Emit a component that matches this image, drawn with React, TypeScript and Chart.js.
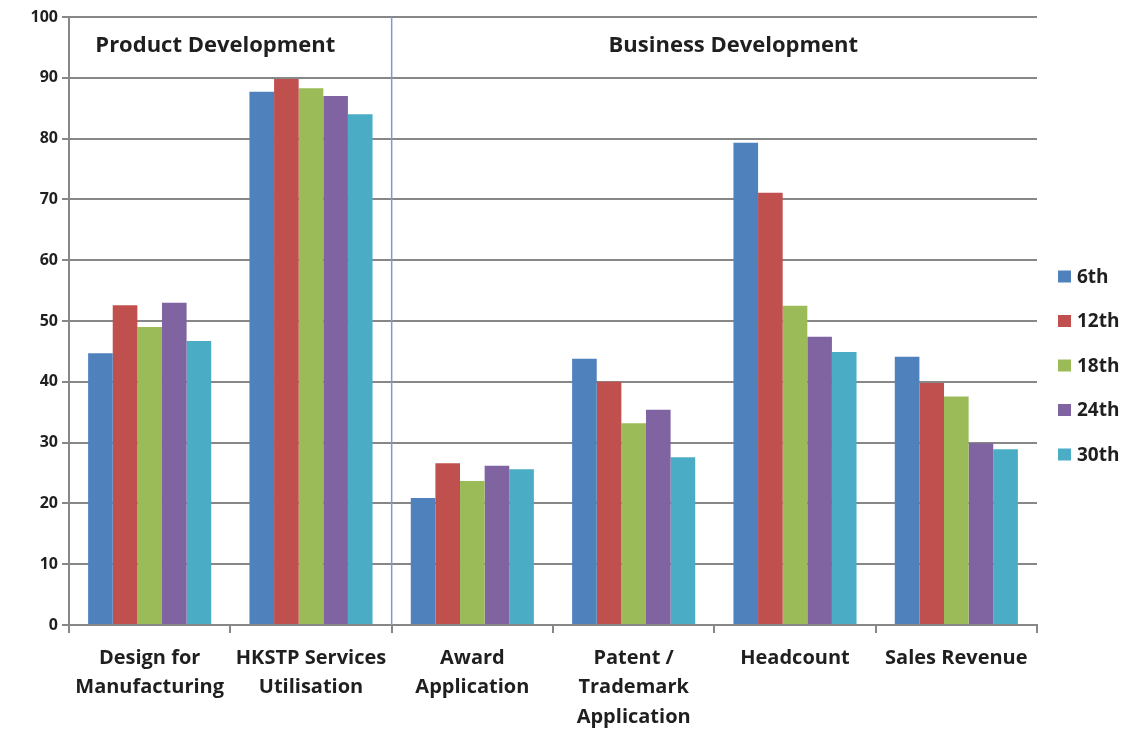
import React, { useEffect, useRef } from "react";
import { Chart, registerables } from "chart.js";

Chart.register(...registerables);

const categories: string[][] = [
  ["Design for", "Manufacturing"],
  ["HKSTP Services", "Utilisation"],
  ["Award", "Application"],
  ["Patent /", "Trademark", "Application"],
  ["Headcount"],
  ["Sales Revenue"],
];

const seriesLabels = ["6th", "12th", "18th", "24th", "30th"];
const seriesColors = ["#4F81BD", "#C0504D", "#9BBB59", "#8064A2", "#4BACC6"];

const s6th = [44.7, 87.7, 20.9, 43.8, 79.3, 44.1];
const s12th = [52.6, 89.8, 26.6, 40.0, 71.1, 39.8];
const s18th = [49.0, 88.3, 23.7, 33.2, 52.5, 37.6];
const s24th = [53.0, 87.0, 26.2, 35.4, 47.4, 29.9];
const s30th = [46.7, 84.0, 25.6, 27.6, 44.9, 28.9];

const sectionLabels = ["Product Development", "Business Development"];
const yTicks = [0, 10, 20, 30, 40, 50, 60, 70, 80, 90, 100];

const FONT = "'Open Sans', 'DejaVu Sans', sans-serif";
const TEXT = "#1f1f1f";
const GRID = "#878787";

export default function App() {
  const ref = useRef<HTMLCanvasElement | null>(null);

  useEffect(() => {
    if (!ref.current) return;
    const all = [s6th, s12th, s18th, s24th, s30th];

    const overlay = {
      id: "overlay",
      beforeDatasetsDraw(chart: any) {
        const { ctx, chartArea, scales } = chart;
        const x = scales.x;
        const xb = (x.getPixelForValue(1) + x.getPixelForValue(2)) / 2;
        ctx.save();
        ctx.strokeStyle = "#7a9dcc";
        ctx.lineWidth = 1.5;
        ctx.beginPath();
        ctx.moveTo(xb, chartArea.top);
        ctx.lineTo(xb, chartArea.bottom);
        ctx.stroke();
        ctx.restore();
      },
      afterDraw(chart: any) {
        const { ctx, chartArea, scales } = chart;
        const x = scales.x;
        const xb = (x.getPixelForValue(1) + x.getPixelForValue(2)) / 2;
        ctx.save();
        ctx.fillStyle = TEXT;
        ctx.font = `bold 22px ${FONT}`;
        ctx.textBaseline = "middle";
        ctx.textAlign = "center";
        const ty = chartArea.top + 29;
        ctx.fillText(sectionLabels[0], (chartArea.left + xb) / 2 - 15, ty);
        ctx.fillText(sectionLabels[1], (xb + chartArea.right) / 2 + 19, ty);

        // legend
        const cy = chart.height / 2;
        const step = 44.5;
        const lx = chartArea.right + 21;
        ctx.font = `bold 19px ${FONT}`;
        ctx.textAlign = "left";
        seriesLabels.forEach((lab, i) => {
          const y = cy + (i - 2) * step;
          ctx.fillStyle = seriesColors[i];
          ctx.fillRect(lx, y - 6, 13, 12);
          ctx.fillStyle = TEXT;
          ctx.fillText(lab, lx + 19, y + 1);
        });
        ctx.restore();
      },
    };

    const chart = new Chart(ref.current, {
      type: "bar",
      data: {
        labels: categories,
        datasets: seriesLabels.map((lab, i) => ({
          label: lab,
          data: all[i],
          backgroundColor: seriesColors[i],
          borderWidth: 0,
          categoryPercentage: 0.763,
          barPercentage: 1.0,
        })),
      },
      options: {
        animation: false,
        responsive: false,
        maintainAspectRatio: false,
        layout: { padding: { left: 0, top: 17, right: 93, bottom: 0 } },
        plugins: {
          legend: { display: false },
          tooltip: { enabled: false },
        },
        scales: {
          x: {
            grid: {
              display: true,
              drawOnChartArea: false,
              drawTicks: true,
              tickLength: 8,
              color: GRID,
              lineWidth: 2,
            },
            border: { display: true, color: GRID, width: 2 },
            ticks: {
              color: TEXT,
              font: { family: FONT, size: 20, weight: "bold", lineHeight: 1.48 },
              padding: 10,
              maxRotation: 0,
              autoSkip: false,
            },
            afterFit(scale: any) {
              scale.height = 106;
            },
          },
          y: {
            min: 0,
            max: 100,
            afterBuildTicks(scale: any) {
              scale.ticks = yTicks.map((v) => ({ value: v }));
            },
            grid: {
              color: GRID,
              lineWidth: 2,
              drawTicks: true,
              tickLength: 7,
            },
            border: { display: true, color: GRID, width: 2 },
            ticks: {
              color: TEXT,
              font: { family: FONT, size: 16, weight: "bold" },
              padding: 4,
            },
            afterFit(scale: any) {
              scale.width = 69;
            },
          },
        },
      },
      plugins: [overlay],
    });
    return () => chart.destroy();
  }, []);

  return (
    <div style={{ position: "absolute", left: 0, top: 0, width: 1130, height: 731, background: "#fff" }}>
      <canvas ref={ref} width={1130} height={731} style={{ display: "block" }} />
    </div>
  );
}
